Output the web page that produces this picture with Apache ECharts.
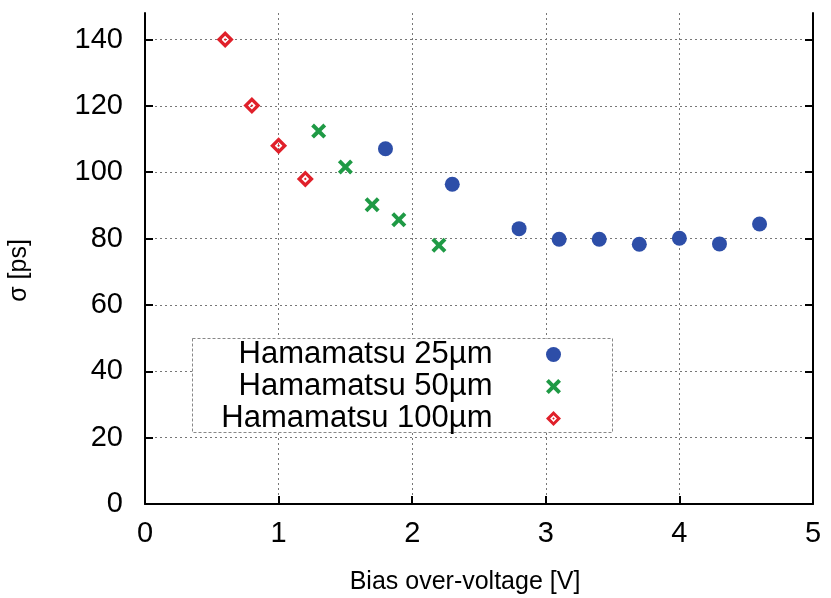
<!DOCTYPE html>
<html>
<head>
<meta charset="utf-8">
<script src="https://cdn.jsdelivr.net/npm/echarts@6/dist/echarts.min.js"></script>
<style>html,body{margin:0;padding:0;background:#fff}#c{width:831px;height:598px}</style>
</head>
<body>
<div id="c"></div>
<script>
const seriesNames = ['Hamamatsu 25\u00b5m', 'Hamamatsu 50\u00b5m', 'Hamamatsu 100\u00b5m'];
const h25x = [1.8, 2.3, 2.8, 3.1, 3.4, 3.7, 4.0, 4.3, 4.6];
const h25y = [107.1, 96.4, 83.0, 79.8, 79.8, 78.3, 80.1, 78.4, 84.4];
const h50x = [1.3, 1.5, 1.7, 1.9, 2.2];
const h50y = [112.4, 101.6, 90.2, 85.7, 78.0];
const h100x = [0.6, 0.8, 1.0, 1.2];
const h100y = [140.0, 120.1, 108.0, 98.0];
const xTicks = [0, 1, 2, 3, 4, 5];
const yTicks = [0, 20, 40, 60, 80, 100, 120, 140];

const zip = (xs, ys) => xs.map((x, i) => [x, ys[i]]);
const FONT = 'Liberation Sans';
const diamondPath = 'path://M8,0 L16,8 L8,16 L0,8 Z M8,4.4 L4.4,8 L8,11.6 L11.6,8 Z M8,6.7 L9.3,8 L8,9.3 L6.7,8 Z';
const crossPath = 'path://M0,2.6 L2.6,0 L7,4.4 L11.4,0 L14,2.6 L9.6,7 L14,11.4 L11.4,14 L7,9.6 L2.6,14 L0,11.4 L4.4,7 Z';

const gridLineX = {show: true, showMinLine: false, showMaxLine: false, lineStyle: {color: '#777', width: 1, type: [2, 3]}};
const gridLineY = {show: true, showMinLine: false, showMaxLine: true, lineStyle: {color: '#777', width: 1, type: [2, 3]}};
const axLine = {show: true, onZero: false, lineStyle: {color: '#000', width: 2}};

const chart = echarts.init(document.getElementById('c'));
chart.setOption({
  animation: false,
  backgroundColor: '#fff',
  grid: {left: 145, right: 18, top: 13, bottom: 94, containLabel: false, outerBoundsMode: 'none'},
  graphic: [{
    type: 'rect', left: 192, top: 338, z: 10,
    shape: {width: 420, height: 94},
    style: {fill: '#fff', stroke: '#888', lineWidth: 1, lineDash: [3, 2]}
  }],
  legend: {
    orient: 'vertical', align: 'right', right: 270, top: 339, padding: 0,
    itemWidth: 112, itemHeight: 15, itemGap: 1, z: 20,
    textStyle: {fontFamily: FONT, fontSize: 31, color: '#000'},
    data: seriesNames
  },
  xAxis: {
    type: 'value', min: 0, max: 5, interval: 1,
    name: 'Bias over-voltage [V]', nameLocation: 'middle', nameGap: 66,
    nameTextStyle: {fontFamily: FONT, fontSize: 25, color: '#000', padding: [0, 28, 0, 0]},
    axisLine: axLine,
    axisTick: {show: true, inside: true, length: 8, lineStyle: {color: '#000', width: 2}},
    axisLabel: {fontFamily: FONT, fontSize: 29, color: '#000', margin: 15, formatter: v => xTicks.includes(v) ? String(v) : ''},
    splitLine: gridLineX
  },
  yAxis: [{
    type: 'value', min: 0, max: 148, interval: 20, position: 'left',
    name: '\u03c3 [ps]', nameLocation: 'middle', nameGap: 113, nameRotate: 90,
    nameTextStyle: {fontFamily: FONT, fontSize: 25, color: '#000', padding: [0, 24, 0, 0]},
    axisLine: axLine,
    axisTick: {show: true, inside: true, length: 8, lineStyle: {color: '#000', width: 2}, customValues: yTicks},
    axisLabel: {fontFamily: FONT, fontSize: 29, color: '#000', margin: 22, customValues: yTicks},
    splitLine: gridLineY
  }, {
    type: 'value', min: 0, max: 148, interval: 20, position: 'right',
    axisLine: axLine,
    axisTick: {show: true, inside: true, length: 8, lineStyle: {color: '#000', width: 2}, customValues: yTicks},
    axisLabel: {show: false},
    splitLine: {show: false}
  }],
  series: [{
    name: seriesNames[0], type: 'scatter', yAxisIndex: 0,
    symbol: 'circle', symbolSize: 15,
    itemStyle: {color: '#2d4ea8', opacity: 1},
    data: zip(h25x, h25y), z: 5
  }, {
    name: seriesNames[1], type: 'scatter', yAxisIndex: 0,
    symbol: crossPath, symbolSize: 15,
    itemStyle: {color: '#1f9a45', opacity: 1},
    data: zip(h50x, h50y), z: 5
  }, {
    name: seriesNames[2], type: 'scatter', yAxisIndex: 0,
    symbol: diamondPath, symbolSize: 17,
    itemStyle: {color: '#e0202a', opacity: 1},
    data: zip(h100x, h100y), z: 5
  }]
});
</script>
</body>
</html>
